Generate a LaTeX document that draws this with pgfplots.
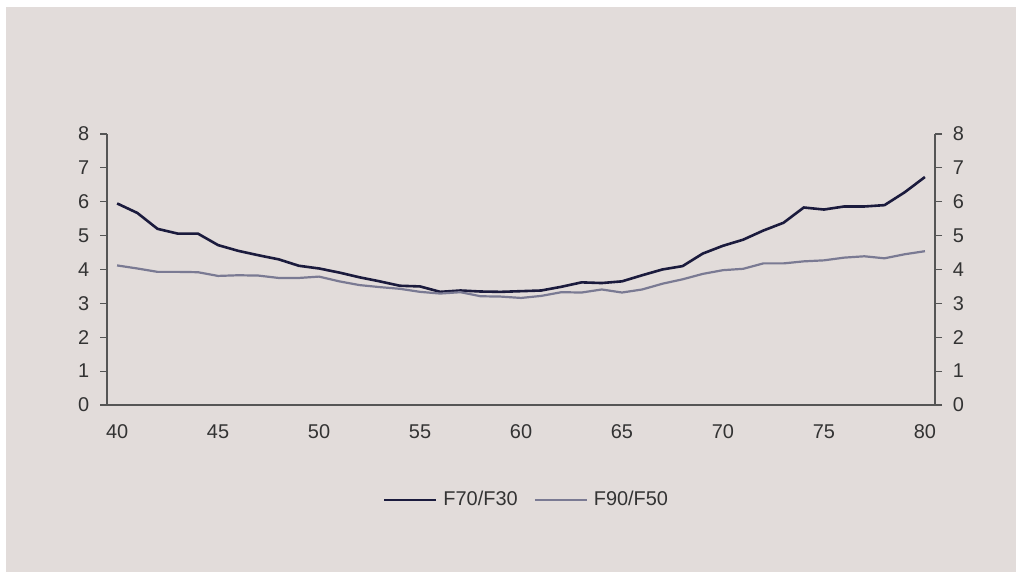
\documentclass[border=0pt]{standalone}
\usepackage{pgfplots}
\pgfplotsset{compat=1.18}
\usepackage{fontspec}
\setmainfont{Liberation Sans}
\definecolor{bgc}{HTML}{E2DCDA}
\definecolor{navy}{HTML}{1B1B3D}
\definecolor{grayp}{HTML}{7A7A93}
\definecolor{axc}{HTML}{555555}
\definecolor{txt}{HTML}{333333}
\pgfplotstableread{
age a b
40 5.95 4.12
41 5.67 4.03
42 5.20 3.93
43 5.06 3.93
44 5.06 3.92
45 4.72 3.81
46 4.55 3.83
47 4.42 3.82
48 4.30 3.75
49 4.11 3.75
50 4.03 3.79
51 3.91 3.65
52 3.77 3.54
53 3.65 3.48
54 3.52 3.43
55 3.50 3.34
56 3.34 3.29
57 3.38 3.33
58 3.35 3.21
59 3.34 3.20
60 3.36 3.16
61 3.38 3.22
62 3.49 3.33
63 3.62 3.32
64 3.60 3.41
65 3.65 3.32
66 3.83 3.41
67 4.00 3.58
68 4.10 3.71
69 4.47 3.87
70 4.70 3.98
71 4.88 4.02
72 5.15 4.18
73 5.38 4.18
74 5.83 4.24
75 5.77 4.27
76 5.86 4.35
77 5.86 4.39
78 5.90 4.33
79 6.28 4.45
80 6.73 4.54
}\data
\begin{document}
\fontsize{20}{24}\selectfont
\begin{tikzpicture}[x=1bp,y=1bp]
\path[use as bounding box,fill=white] (0,0) rectangle (1016,575);
\fill[bgc] (6,3) rectangle (1016,568);
\begin{axis}[
  at={(107bp,170bp)}, anchor=south west,
  scale only axis, width=828bp, height=271bp,
  xmin=39.5, xmax=80.5, ymin=0, ymax=8,
  axis y line*=left, axis x line*=bottom,
  xtick={40,45,...,80}, ytick={0,...,8},
  major x tick style={draw=none},
  tick align=outside, major tick length=7bp,
  y tick style={axc, line width=1.2bp},
  axis line style={axc, line width=1.2bp, -},
  x axis line style={shorten <=-6bp},
  tick label style={font=\fontsize{20}{24}\selectfont, text=txt},
  /pgf/number format/assume math mode=true,
  yticklabel style={xshift=-4bp},
  xticklabel style={yshift=-6bp},
  legend style={draw=none, fill=none, at={(0.5066,-0.3506)}, anchor=center,
    font=\fontsize{20}{24}\selectfont, text=txt,
    /tikz/every even column/.append style={column sep=14bp}},
  legend columns=2,
  legend image code/.code={\draw[#1] (0bp,0bp) -- (52bp,0bp); \path (56bp,0bp);},
]
\addplot[navy, line width=2.6bp] table[x=age,y=a] {\data};
\addlegendentry{F70/F30}
\addplot[grayp, line width=2.2bp] table[x=age,y=b] {\data};
\addlegendentry{F90/F50}
\end{axis}
\begin{axis}[
  at={(107bp,170bp)}, anchor=south west,
  scale only axis, width=828bp, height=271bp,
  xmin=39.5, xmax=80.5, ymin=0, ymax=8,
  axis y line*=right, axis x line=none,
  ytick={0,...,8},
  tick align=outside, major tick length=7bp,
  y tick style={axc, line width=1.2bp},
  axis line style={axc, line width=1.2bp, -},
  tick label style={font=\fontsize{20}{24}\selectfont, text=txt},
  /pgf/number format/assume math mode=true,
  yticklabel style={xshift=4bp},
]
\end{axis}
\end{tikzpicture}
\end{document}
